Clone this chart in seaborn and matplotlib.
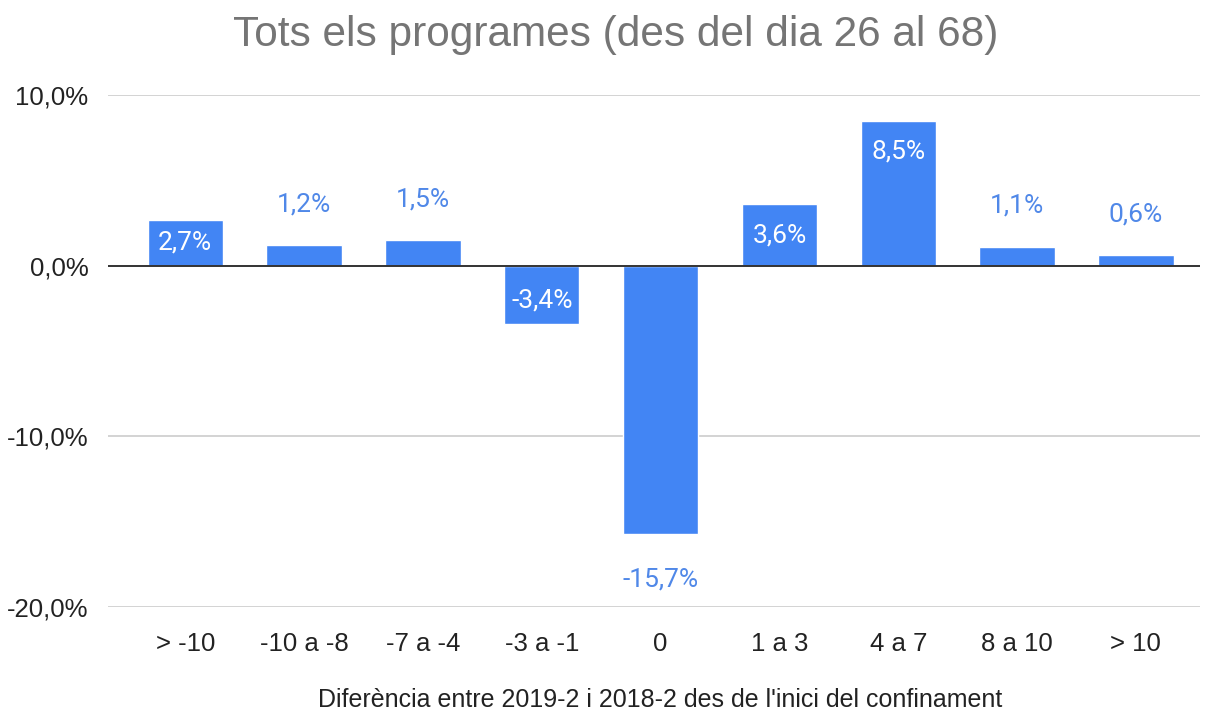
import matplotlib.pyplot as plt
import seaborn as sns
import pandas as pd

categories = ["> -10", "-10 a -8", "-7 a -4", "-3 a -1", "0", "1 a 3", "4 a 7", "8 a 10", "> 10"]
values = [2.7, 1.2, 1.5, -3.4, -15.7, 3.6, 8.5, 1.1, 0.6]
yticks = [-20, -10, 0, 10]

BLUE = "#4285F4"
LABEL_BLUE = "#5088e8"
ARIAL = ["Liberation Sans", "DejaVu Sans"]

sns.set_style("white")
plt.rcParams["font.family"] = ARIAL

df = pd.DataFrame({"cat": categories, "val": values})

fig = plt.figure(figsize=(12.11, 7.13), dpi=100)
ax = fig.add_axes([0.0892, 0.1487, 0.9018, 0.7181])

for y in yticks:
    if y != 0:
        ax.axhline(y, color="#cccccc", lw=1.2, zorder=0)

sns.barplot(data=df, x="cat", y="val", color=BLUE, width=0.635, saturation=1, ax=ax, zorder=2)
ax.axhline(0, color="#333333", lw=1.4, zorder=3)

ax.set_ylim(-20, 10)
ax.set_xlim(-0.65, 8.54)
ax.set_yticks(yticks)
ax.set_yticklabels([f"{t:.1f}%".replace(".", ",") for t in yticks], fontsize=18.5, color="#222222")
ax.tick_params(axis="x", labelsize=18.5, colors="#222222", pad=18, length=0)
ax.tick_params(axis="y", pad=14, length=0)
for s in ax.spines.values():
    s.set_visible(False)
ax.set_ylabel("")
ax.set_xlabel("")
fig.text(0.545, 1 - 700 / 713, "Diferència entre 2019-2 i 2018-2 des de l'inici del confinament",
         ha="center", va="center", fontsize=18, color="#222222")

for i, v in enumerate(values):
    txt = f"{v:.1f}%".replace(".", ",")
    sign = 1 if v >= 0 else -1
    if abs(v) >= 2.5:
        off = -23 if abs(v) < 3.5 else -31
        ax.annotate(txt, (i, v), xytext=(0, sign * off), textcoords="offset pixels",
                    ha="center", va="center", fontsize=19, color="white", zorder=4,
                    family=["Roboto", "DejaVu Sans"])
    else:
        ax.annotate(txt, (i, v), xytext=(0, sign * 41), textcoords="offset pixels",
                    ha="center", va="center", fontsize=19, color=LABEL_BLUE, zorder=4,
                    family=["Roboto", "DejaVu Sans"])
# big negative bar label sits below the bar
i = values.index(min(values))
ax.texts[i].set_color(LABEL_BLUE)
ax.texts[i].set_position((0, -46))

fig.suptitle("Tots els programes (des del dia 26 al 68)", x=0.508, y=0.951, va="center",
             fontsize=30.5, color="#757575")

fig.savefig("out.png", dpi=100)
